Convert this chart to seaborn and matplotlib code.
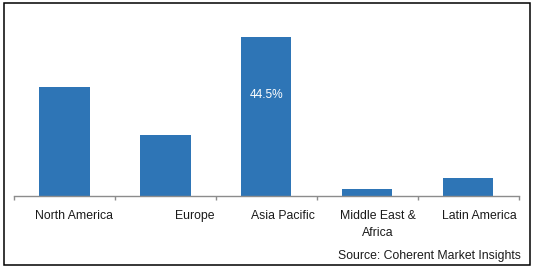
import matplotlib
matplotlib.use("Agg")
import matplotlib.pyplot as plt
import matplotlib.transforms as mtransforms
from matplotlib.patches import Rectangle
import seaborn as sns
import pandas as pd

categories = ["North America", "Europe", "Asia Pacific", "Middle East &\nAfrica", "Latin America"]
values = [30.5, 17.1, 44.5, 2.0, 5.0]
highlight_label = "44.5%"
source_text = "Source: Coherent Market Insights"

sns.set_theme(style="white")
plt.rcParams['font.family'] = ['Liberation Sans', 'DejaVu Sans']

W, H = 533, 269
fig = plt.figure(figsize=(W / 100, H / 100), dpi=100)
ax = fig.add_axes([14 / W, 73 / H, (518.5 - 14) / W, 178.6 / H])

df = pd.DataFrame({"region": categories, "share": values})
sns.barplot(data=df, x="region", y="share", color="#2E75B6", width=0.5,
            saturation=1, linewidth=0, ax=ax)

ax.set_ylim(0, 50)
ax.set_xlim(-0.5, len(categories) - 0.5)
ax.set_xlabel("")
ax.set_ylabel("")
ax.set_yticks([])
for s in ["top", "right", "left"]:
    ax.spines[s].set_visible(False)
ax.spines["bottom"].set_color("#8c8c8c")
ax.spines["bottom"].set_linewidth(1.0)

# ticks at category boundaries, labels right-aligned to the right boundary
bounds = [i - 0.5 for i in range(len(categories) + 1)]
ax.set_xticks(bounds)
ax.set_xticklabels([""] + categories)
ax.tick_params(axis="x", direction="out", length=3.2, width=1.0,
               color="#8c8c8c", pad=7.0, labelsize=8.8, labelcolor="#1a1a1a",
               bottom=True)
for lbl in ax.get_xticklabels():
    lbl.set_ha("right")
    lbl.set_multialignment("center")
    lbl.set_linespacing(1.5)
    lbl.set_transform(lbl.get_transform() + mtransforms.ScaledTranslation(-1.5 / 100, 0, fig.dpi_scale_trans))

# value label inside the Asia Pacific bar
ax.text(2, values[2] - 16.1, highlight_label, ha="center", va="center",
        color="white", fontsize=8.6)

fig.text(521 / W, 13 / H, source_text, ha="right", va="center",
         fontsize=8.8, color="#1a1a1a")

fig.patches.append(Rectangle((4 / W, 4 / H), 526 / W, 262 / H,
                             transform=fig.transFigure, fill=False,
                             edgecolor="black", linewidth=1.1))

fig.savefig("out.png", dpi=100)
